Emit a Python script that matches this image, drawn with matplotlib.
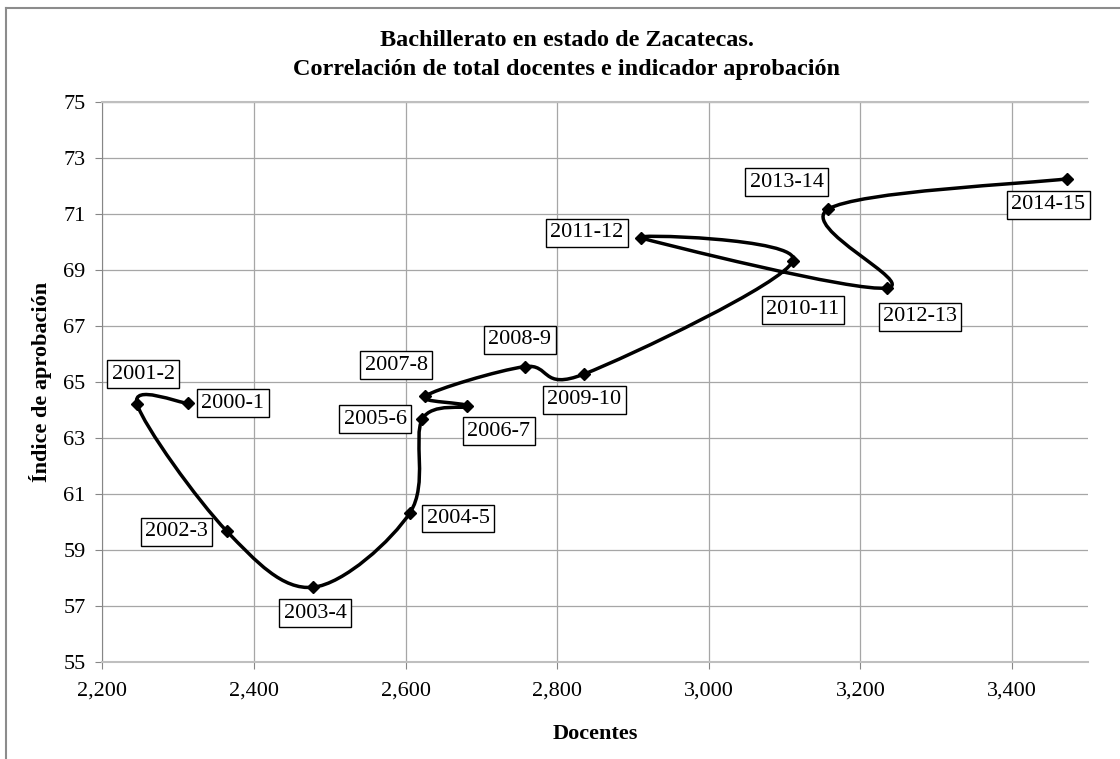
import numpy as np
import matplotlib
matplotlib.use("Agg")
import matplotlib.pyplot as plt
from matplotlib.path import Path
from matplotlib.patches import PathPatch
from matplotlib.ticker import FuncFormatter

# Data (ciclo escolar, docentes, indice de aprobacion)
periodos = ["2000-1", "2001-2", "2002-3", "2003-4", "2004-5", "2005-6", "2006-7",
            "2007-8", "2008-9", "2009-10", "2010-11", "2011-12", "2012-13",
            "2013-14", "2014-15"]
docentes = [2313, 2246, 2364, 2478, 2606, 2622, 2681, 2626, 2757, 2836,
            3111, 2910, 3235, 3157, 3473]
aprobacion = [64.25, 64.22, 59.69, 57.68, 60.35, 63.68, 64.15, 64.51, 65.56,
              65.30, 69.34, 70.16, 68.37, 71.18, 72.27]

x_ticks = [2200, 2400, 2600, 2800, 3000, 3200, 3400]
y_ticks = [55, 57, 59, 61, 63, 65, 67, 69, 71, 73, 75]

# label placement, offset in pixels from each point
label_offsets = [(45, 0), (6, 30), (-50, -1), (2, -26), (48, -6), (-47, 0),
                 (32, -25), (-29, 31), (-5, 27), (0, -26), (10, -49),
                 (-54, 5), (33, -29), (-41, 27), (-19, -26)]

plt.rcParams["font.family"] = ["Liberation Serif", "DejaVu Serif"]

fig = plt.figure(figsize=(11.2, 7.59), dpi=100)
ax = fig.add_axes([0.0913, 0.1274, 0.8801, 0.7378])

# Excel-like smoothed line (Catmull-Rom -> cubic Bezier)
pts = np.column_stack([docentes, aprobacion]).astype(float)
n = len(pts)
verts = [pts[0]]
codes = [Path.MOVETO]
for i in range(n - 1):
    p_prev = pts[i - 1] if i > 0 else pts[i]
    p_next2 = pts[i + 2] if i + 2 < n else pts[i + 1]
    c1 = pts[i] + (pts[i + 1] - p_prev) / 6.0
    c2 = pts[i + 1] - (p_next2 - pts[i]) / 6.0
    verts += [c1, c2, pts[i + 1]]
    codes += [Path.CURVE4] * 3
ax.add_patch(PathPatch(Path(verts, codes), facecolor="none", edgecolor="black",
                       lw=2.5, zorder=3, capstyle="round", joinstyle="round"))
ax.plot(docentes, aprobacion, linestyle="none", marker="D", ms=6.5,
        color="black", zorder=4)

for lab, x, y, off in zip(periodos, docentes, aprobacion, label_offsets):
    ax.annotate(lab, (x, y), xytext=off, textcoords="offset pixels",
                ha="center", va="center", fontsize=16, zorder=5,
                bbox=dict(boxstyle="square,pad=0.2", fc="white", ec="black", lw=1.0))

ax.set_xlim(2200, 3500)
ax.set_ylim(55, 75)
ax.set_xticks(x_ticks)
ax.set_yticks(y_ticks)
ax.xaxis.set_major_formatter(FuncFormatter(lambda v, p: f"{int(v):,}"))
ax.grid(True, color="#a6a6a6", lw=0.9, zorder=0)
ax.set_axisbelow(True)
ax.tick_params(axis="both", direction="out", length=5, color="#868686",
               labelsize=16, pad=7)
ax.tick_params(axis="x", pad=9)
ax.spines["right"].set_visible(False)
ax.spines["left"].set_color("#868686")
ax.spines["top"].set_color("#bfbfbf")
ax.spines["top"].set_linewidth(1.5)
ax.spines["bottom"].set_color("#bfbfbf")
ax.spines["bottom"].set_linewidth(1.5)

ax.set_xlabel("Docentes", fontsize=16, fontweight="bold", labelpad=17)
ax.set_ylabel("Índice de aprobación", fontsize=16, fontweight="bold", labelpad=8)

fig.text(0.506, 1 - 41 / 759, "Bachillerato en estado de Zacatecas.",
         ha="center", va="center", fontsize=17.5, fontweight="bold")
fig.text(0.506, 1 - 70 / 759, "Correlación de total docentes e indicador aprobación",
         ha="center", va="center", fontsize=17.5, fontweight="bold")

# outer chart border (cropped on right and bottom)
fig.add_artist(plt.Line2D([6 / 1120, 6 / 1120], [0, 1 - 8 / 759],
                          transform=fig.transFigure, color="#8c8c8c", lw=1.5))
fig.add_artist(plt.Line2D([6 / 1120, 1], [1 - 8 / 759, 1 - 8 / 759],
                          transform=fig.transFigure, color="#8c8c8c", lw=1.5))

fig.savefig("out.png", dpi=100)
